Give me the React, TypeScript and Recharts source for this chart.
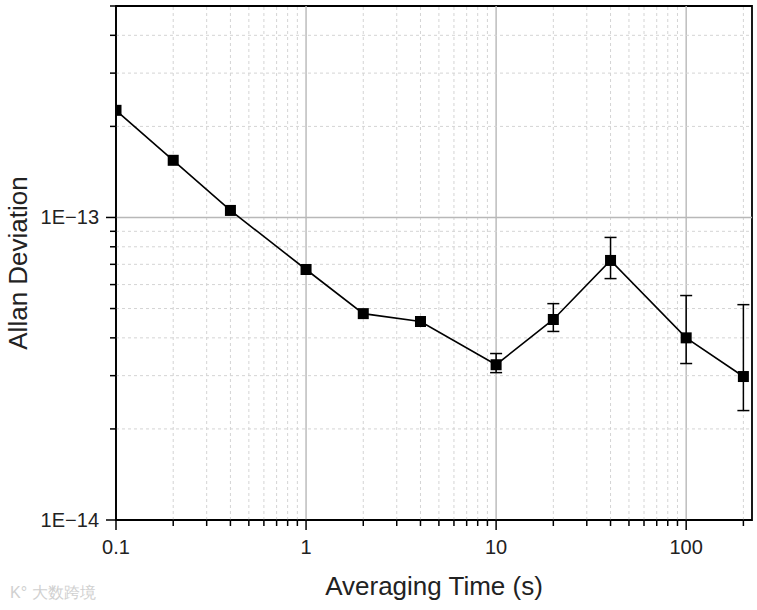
import {
  ComposedChart,
  Line,
  XAxis,
  YAxis,
  ErrorBar,
  ReferenceLine,
  ReferenceArea,
} from "recharts"

// averaging time (s) and Allan deviation
const tau = [0.1, 0.2, 0.4, 1, 2, 4, 10, 20, 40, 100, 200]
const adev = [2.26e-13, 1.545e-13, 1.055e-13, 6.73e-14, 4.81e-14, 4.53e-14, 3.26e-14, 4.6e-14, 7.21e-14, 4.0e-14, 2.98e-14]
// error bar ends (absolute values), null = no bar drawn
const errLow = [null, null, null, null, null, null, 3.07e-14, 4.2e-14, 6.28e-14, 3.29e-14, 2.3e-14]
const errHigh = [null, null, null, null, null, null, 3.55e-14, 5.19e-14, 8.59e-14, 5.52e-14, 5.15e-14]

const xDomain = [0.1, 222]
const yDomain = [1e-14, 5e-13]
const xTicks = [0.1, 0.2, 0.3, 0.4, 0.5, 0.6, 0.7, 0.8, 0.9, 1, 2, 3, 4, 5, 6, 7, 8, 9, 10, 20, 30, 40, 50, 60, 70, 80, 90, 100, 200]
const xMajor = [0.1, 1, 10, 100]
const xLabels = ["0.1", "1", "10", "100"]
const yTicks = [1e-14, 2e-14, 3e-14, 4e-14, 5e-14, 6e-14, 7e-14, 8e-14, 9e-14, 1e-13, 2e-13, 3e-13, 4e-13, 5e-13]
const yMajor = [1e-14, 1e-13]
const yLabels = ["1E\u221214", "1E\u221213"]

const FONT = "'Liberation Sans', Arial, sans-serif"

const data = tau.map((t, i) => ({
  tau: t,
  adev: adev[i],
  err: errLow[i] != null && errHigh[i] != null ? [adev[i] - errLow[i]!, errHigh[i]! - adev[i]] : undefined,
}))

function XTick({ x, y, payload }: any) {
  const idx = xMajor.indexOf(payload.value)
  const major = idx >= 0
  return (
    <g>
      <line x1={x} x2={x} y1={y} y2={y + (major ? 10 : 6)} stroke="#000" strokeWidth={1.5} />
      {major && (
        <text x={x} y={y + 34} textAnchor="middle" fontSize={20} fill="#222" fontFamily={FONT}>
          {xLabels[idx]}
        </text>
      )}
    </g>
  )
}

function YTick({ x, y, payload }: any) {
  const idx = yMajor.indexOf(payload.value)
  const major = idx >= 0
  return (
    <g>
      <line x1={x - (major ? 10 : 6)} x2={x} y1={y} y2={y} stroke="#000" strokeWidth={1.5} />
      {major && (
        <text x={x - 17} y={y + 7} textAnchor="end" fontSize={20} fill="#222" fontFamily={FONT}>
          {yLabels[idx]}
        </text>
      )}
    </g>
  )
}

function Square({ cx, cy }: any) {
  if (cx == null || cy == null) return null
  return <rect x={cx - 5.5} y={cy - 5.5} width={11} height={11} fill="#000" />
}

export default function App() {
  return (
    <div style={{ position: "absolute", left: 0, top: 0, width: 757, height: 610, background: "#fff" }}>
      <ComposedChart
        width={757}
        height={610}
        data={data}
        margin={{ top: 6, right: 5, left: 16, bottom: 30 }}
        style={{ fontFamily: FONT }}
      >
        <XAxis
          dataKey="tau"
          type="number"
          scale="log"
          domain={xDomain}
          allowDataOverflow
          ticks={xTicks}
          interval={0}
          tickSize={0}
          tickMargin={0}
          tick={<XTick />}
          axisLine={{ stroke: "#000", strokeWidth: 1.6 }}
          height={60}
          label={{
            content: ({ viewBox }: any) => (
              <text
                x={viewBox.x + viewBox.width / 2}
                y={viewBox.y + 75}
                textAnchor="middle"
                fontSize={26}
                fill="#222"
                fontFamily={FONT}
              >
                Averaging Time (s)
              </text>
            ),
          }}
        />
        <YAxis
          type="number"
          scale="log"
          domain={yDomain}
          allowDataOverflow
          ticks={yTicks}
          interval={0}
          tickSize={0}
          tickMargin={0}
          tick={<YTick />}
          axisLine={{ stroke: "#000", strokeWidth: 1.6 }}
          width={100}
          label={{
            content: ({ viewBox }: any) => {
              const lx = viewBox.x + 11
              const ly = viewBox.y + viewBox.height / 2
              return (
                <text
                  x={lx}
                  y={ly}
                  transform={`rotate(-90, ${lx}, ${ly})`}
                  textAnchor="middle"
                  fontSize={26}
                  fill="#222"
                  fontFamily={FONT}
                >
                  Allan Deviation
                </text>
              )
            },
          }}
        />

        {xTicks
          .filter((t) => t > xDomain[0])
          .map((t) => (
            <ReferenceLine
              key={`gx${t}`}
              x={t}
              stroke={xMajor.includes(t) ? "#b8b8b8" : "#d4d4d4"}
              strokeWidth={xMajor.includes(t) ? 1.4 : 1}
              strokeDasharray={xMajor.includes(t) ? undefined : "3 3"}
            />
          ))}
        {yTicks
          .filter((t) => t > yDomain[0] && t < yDomain[1])
          .map((t) => (
            <ReferenceLine
              key={`gy${t}`}
              y={t}
              stroke={yMajor.includes(t) ? "#b8b8b8" : "#d4d4d4"}
              strokeWidth={yMajor.includes(t) ? 1.4 : 1}
              strokeDasharray={yMajor.includes(t) ? undefined : "3 3"}
            />
          ))}

        <ReferenceArea
          x1={xDomain[0]}
          x2={xDomain[1]}
          y1={yDomain[0]}
          y2={yDomain[1]}
          fill="none"
          stroke="#000"
          strokeWidth={1.8}
        />

        <Line
          dataKey="adev"
          stroke="#000"
          strokeWidth={1.6}
          dot={<Square />}
          activeDot={false}
          isAnimationActive={false}
        >
          <ErrorBar dataKey="err" direction="y" width={6} stroke="#000" strokeWidth={1.5} />
        </Line>

        <text x={10} y={598} fontSize={16} fill="#d0d0d0" fontFamily={FONT}>
          K° 大数跨境
        </text>
      </ComposedChart>
    </div>
  )
}
